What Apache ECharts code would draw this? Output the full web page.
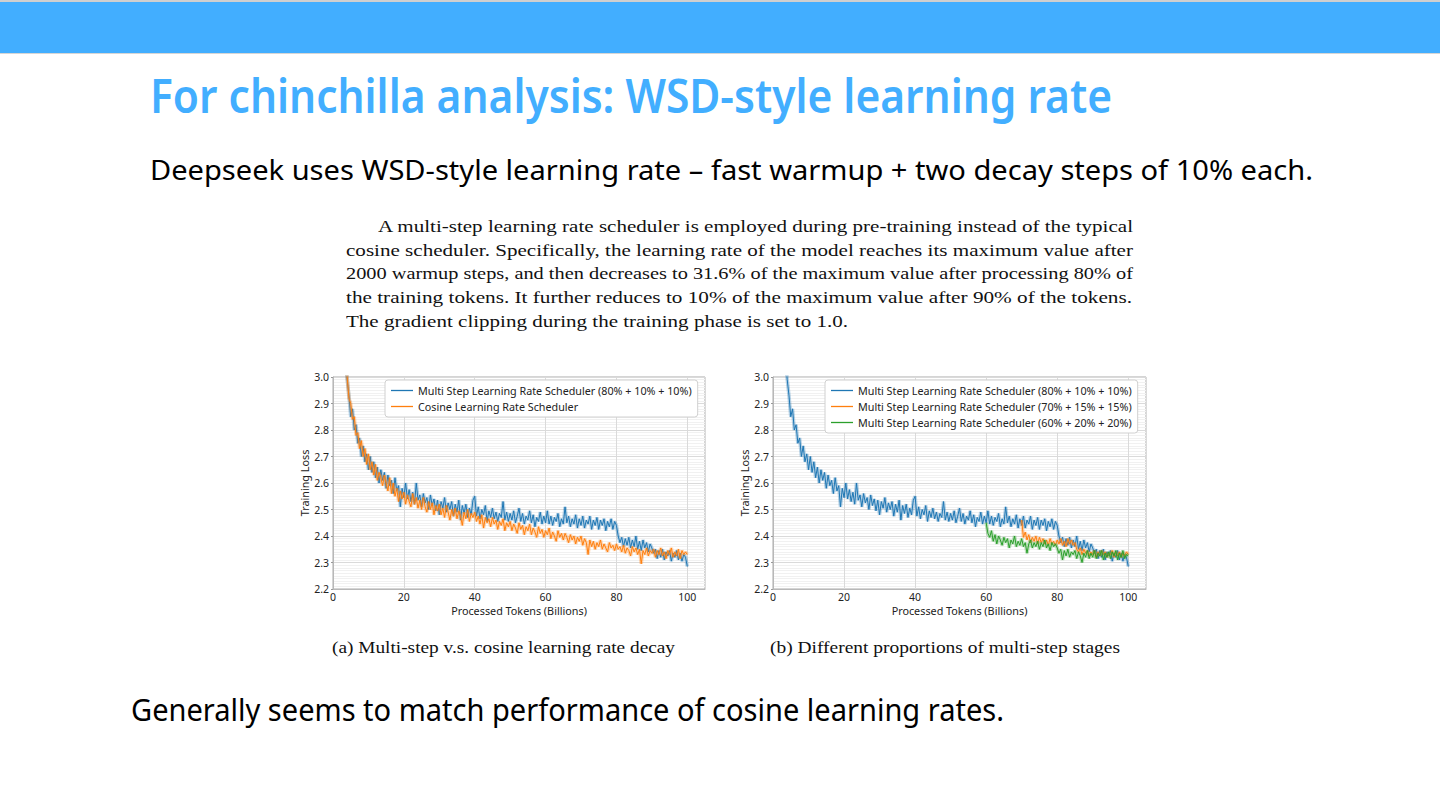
<!DOCTYPE html>
<html><head><meta charset="utf-8">
<script src="https://cdn.jsdelivr.net/npm/echarts@6/dist/echarts.min.js"></script>
<style>
html,body{margin:0;padding:0;background:#fff;width:1440px;height:810px;overflow:hidden;position:relative}
#chart{position:absolute;left:0;top:0;width:1440px;height:810px}
.t{position:absolute;white-space:nowrap;transform-origin:0 0;line-height:1;margin:0}
.sans{font-family:"Noto Sans",sans-serif;color:#000}
.serif{font-family:"Liberation Serif",serif;color:#111}
</style></head><body>
<div style="position:absolute;left:0;top:0;width:1440px;height:2px;background:#cfcfcf"></div>
<div style="position:absolute;left:0;top:2px;width:1440px;height:51px;background:#42aeff"></div>
<div style="position:absolute;left:0;top:53px;width:1440px;height:1px;background:#d6d6d6"></div>
<div id="chart"></div>
<div class="t sans" id="title" style="left:150px;top:72px;font-size:46px;font-weight:600;color:#42aeff">For chinchilla analysis: WSD-style learning rate</div>
<div class="t sans" id="sub" style="left:150px;top:155px;font-size:28px">Deepseek uses WSD-style learning rate – fast warmup + two decay steps of 10% each.</div>
<div class="t serif" id="p1" style="left:378px;top:218px;font-size:17.5px">A multi-step learning rate scheduler is employed during pre-training instead of the typical</div>
<div class="t serif" id="p2" style="left:346px;top:241.5px;font-size:17.5px">cosine scheduler. Specifically, the learning rate of the model reaches its maximum value after</div>
<div class="t serif" id="p3" style="left:346px;top:265px;font-size:17.5px">2000 warmup steps, and then decreases to 31.6% of the maximum value after processing 80% of</div>
<div class="t serif" id="p4" style="left:346px;top:288.5px;font-size:17.5px">the training tokens. It further reduces to 10% of the maximum value after 90% of the tokens.</div>
<div class="t serif" id="p5" style="left:346px;top:312.5px;font-size:17.5px">The gradient clipping during the training phase is set to 1.0.</div>
<div class="t serif" id="ca" style="left:332px;top:639px;font-size:17px">(a) Multi-step v.s. cosine learning rate decay</div>
<div class="t serif" id="cb" style="left:770px;top:639px;font-size:17px">(b) Different proportions of multi-step stages</div>
<div class="t sans" id="bot" style="left:131px;top:695px;font-size:30px">Generally seems to match performance of cosine learning rates.</div>
<script>
// ---------- data (training loss, sampled every 0.5B tokens) ----------
const STEP = 0.5;
const xTicks = [0, 20, 40, 60, 80, 100];
const yTicks = ['2.2','2.3','2.4','2.5','2.6','2.7','2.8','2.9','3.0'];
const names = {
  ms80: 'Multi Step Learning Rate Scheduler (80% + 10% + 10%)',
  cos: 'Cosine Learning Rate Scheduler',
  ms70: 'Multi Step Learning Rate Scheduler (70% + 15% + 15%)',
  ms60: 'Multi Step Learning Rate Scheduler (60% + 20% + 20%)'
};
// multi-step 80/10/10, x from 3.0 to 100
const ms80Start = 3.0;
const ms80 = [
  3.15, 3.07, 2.99, 2.93,
  2.85, 2.88, 2.80, 2.82, 2.75, 2.77, 2.70, 2.74, 2.68, 2.71,
  2.65, 2.70, 2.64, 2.68, 2.62, 2.66, 2.60, 2.65, 2.61, 2.64,
  2.58, 2.63, 2.59, 2.61, 2.56, 2.62, 2.57, 2.59, 2.51, 2.58,
  2.545, 2.60, 2.54, 2.575, 2.53, 2.565, 2.52, 2.60, 2.535, 2.555,
  2.51, 2.56, 2.525, 2.545, 2.50, 2.555, 2.515, 2.54, 2.495, 2.535,
  2.48, 2.53, 2.505, 2.545, 2.49, 2.525, 2.50, 2.53, 2.475, 2.52,
  2.49, 2.535, 2.46, 2.515, 2.485, 2.52, 2.47, 2.505, 2.48, 2.535,
  2.55, 2.475, 2.51, 2.465, 2.50, 2.48, 2.515, 2.455, 2.495, 2.47,
  2.505, 2.465, 2.49, 2.455, 2.485, 2.47, 2.53, 2.46, 2.49, 2.455,
  2.485, 2.46, 2.495, 2.45, 2.475, 2.505, 2.455, 2.485, 2.445, 2.475,
  2.46, 2.495, 2.45, 2.48, 2.435, 2.47, 2.455, 2.49, 2.445, 2.475,
  2.45, 2.495, 2.445, 2.475, 2.44, 2.47, 2.455, 2.485, 2.435, 2.465,
  2.445, 2.51, 2.45, 2.475, 2.435, 2.465, 2.445, 2.48, 2.43, 2.465,
  2.44, 2.475, 2.43, 2.46, 2.445, 2.475, 2.425, 2.46, 2.44, 2.47,
  2.425, 2.46, 2.44, 2.465, 2.42, 2.455, 2.435, 2.465, 2.425, 2.455,
  2.44, 2.40, 2.375, 2.395, 2.36, 2.39, 2.365, 2.395, 2.355, 2.385,
  2.36, 2.40, 2.35, 2.38, 2.345, 2.385, 2.355, 2.375, 2.34, 2.37,
  2.355, 2.335, 2.35, 2.315, 2.345, 2.32, 2.35, 2.31, 2.34, 2.325,
  2.345, 2.305, 2.335, 2.32, 2.345, 2.31, 2.335, 2.305, 2.33, 2.32,
  2.285
];
// cosine, x from 3.0 to 100
const cosStart = 3.0;
const cos = [
  3.16, 3.05, 3.00, 2.92,
  2.90, 2.84, 2.85, 2.78, 2.79, 2.73, 2.76, 2.70, 2.73, 2.67,
  2.71, 2.65, 2.68, 2.63, 2.67, 2.61, 2.64, 2.62, 2.59, 2.63,
  2.60, 2.57, 2.62, 2.56, 2.60, 2.55, 2.58, 2.53, 2.57, 2.54,
  2.565, 2.52, 2.555, 2.53, 2.51, 2.56, 2.52, 2.545, 2.505, 2.535,
  2.50, 2.545, 2.51, 2.49, 2.53, 2.50, 2.525, 2.48, 2.515, 2.495,
  2.52, 2.48, 2.505, 2.47, 2.515, 2.49, 2.46, 2.50, 2.475, 2.505,
  2.465, 2.495, 2.475, 2.44, 2.49, 2.465, 2.50, 2.455, 2.485, 2.47,
  2.49, 2.455, 2.475, 2.445, 2.48, 2.43, 2.47, 2.45, 2.465, 2.435,
  2.47, 2.445, 2.46, 2.425, 2.455, 2.44, 2.465, 2.42, 2.45, 2.435,
  2.455, 2.42, 2.445, 2.43, 2.41, 2.45, 2.425, 2.44, 2.405, 2.435,
  2.42, 2.445, 2.405, 2.43, 2.415, 2.395, 2.435, 2.41, 2.425, 2.395,
  2.42, 2.405, 2.43, 2.39, 2.415, 2.40, 2.38, 2.42, 2.395, 2.41,
  2.385, 2.41, 2.395, 2.375, 2.405, 2.385, 2.40, 2.37, 2.395, 2.38,
  2.40, 2.365, 2.39, 2.375, 2.33, 2.385, 2.36, 2.38, 2.35, 2.375,
  2.36, 2.385, 2.35, 2.37, 2.355, 2.34, 2.375, 2.355, 2.365, 2.345,
  2.37, 2.35, 2.36, 2.34, 2.365, 2.335, 2.355, 2.345, 2.325, 2.36,
  2.34, 2.355, 2.33, 2.35, 2.295, 2.345, 2.33, 2.355, 2.325, 2.345,
  2.335, 2.35, 2.32, 2.345, 2.33, 2.355, 2.325, 2.34, 2.315, 2.345,
  2.33, 2.355, 2.32, 2.34, 2.325, 2.35, 2.315, 2.345, 2.33, 2.34,
  2.33
];
// multi-step 70/15/15, x from 70 to 100
const ms70Start = 70;
const ms70 = [
  2.46, 2.395, 2.415, 2.385, 2.405, 2.375, 2.395, 2.38, 2.40, 2.37,
  2.395, 2.375, 2.39, 2.37, 2.385, 2.365, 2.39, 2.37, 2.38, 2.365,
  2.385, 2.37, 2.39, 2.365, 2.38, 2.36, 2.39, 2.37, 2.385, 2.365,
  2.375, 2.35, 2.34, 2.355, 2.33, 2.35, 2.335, 2.345, 2.325, 2.34,
  2.33, 2.345, 2.32, 2.34, 2.325, 2.345, 2.33, 2.34, 2.32, 2.335,
  2.33, 2.345, 2.32, 2.34, 2.325, 2.34, 2.32, 2.335, 2.325, 2.34,
  2.33
];
// multi-step 60/20/20, x from 60 to 100
const ms60Start = 60;
const ms60 = [
  2.45, 2.41, 2.395, 2.42, 2.38, 2.405, 2.37, 2.40, 2.385, 2.365,
  2.395, 2.375, 2.39, 2.355, 2.385, 2.37, 2.40, 2.36, 2.38, 2.365,
  2.39, 2.36, 2.375, 2.335, 2.37, 2.385, 2.355, 2.375, 2.36, 2.38,
  2.35, 2.375, 2.36, 2.385, 2.355, 2.37, 2.345, 2.375, 2.36, 2.37,
  2.355, 2.335, 2.35, 2.31, 2.345, 2.325, 2.35, 2.32, 2.34, 2.33,
  2.345, 2.315, 2.34, 2.325, 2.30, 2.335, 2.32, 2.345, 2.315, 2.335,
  2.32, 2.345, 2.315, 2.335, 2.325, 2.345, 2.31, 2.335, 2.32, 2.34,
  2.315, 2.34, 2.325, 2.345, 2.31, 2.335, 2.32, 2.345, 2.315, 2.33,
  2.325
];
// ---------- chart ----------
const BLUE = '#1f77b4', ORANGE = '#ff7f0e', GREEN = '#2ca02c';
const F = '"Noto Sans", "DejaVu Sans", sans-serif';
function pairs(x0, arr) { return arr.map((v, i) => [x0 + i * STEP, v]); }
function mk(name, g, data, color, z) {
  return [
    { type: 'line', name: name + ' raw', xAxisIndex: g, yAxisIndex: g, data, symbol: 'none', silent: true,
      lineStyle: { color, width: 3.5, opacity: 0.32 }, z },
    { type: 'line', name, xAxisIndex: g, yAxisIndex: g, data, symbol: 'none', silent: true,
      itemStyle: { color }, lineStyle: { color, width: 1 }, z: z + 1 }
  ];
}
function xAx(g) {
  return { gridIndex: g, type: 'value', min: 0, max: 105, interval: 20,
    name: 'Processed Tokens (Billions)', nameLocation: 'middle', nameGap: 16,
    nameTextStyle: { fontFamily: F, fontSize: 10.8, color: '#222' },
    axisLine: { show: true, lineStyle: { color: '#b8b8b8' } },
    axisTick: { show: false },
    axisLabel: { fontFamily: F, fontSize: 10.5, color: '#222', margin: 2, lineHeight: 11,
      formatter: v => xTicks.indexOf(v) >= 0 ? String(v) : '' },
    splitLine: { show: true, lineStyle: { color: '#dadada' } } };
}
function yAx(g) {
  return { gridIndex: g, type: 'value', min: 2.2, max: 3.0, interval: 0.1,
    name: 'Training Loss', nameLocation: 'middle', nameGap: 20,
    nameTextStyle: { fontFamily: F, fontSize: 10.8, color: '#222' },
    axisLine: { show: true, lineStyle: { color: '#b8b8b8' } },
    axisTick: { show: true, length: 2, lineStyle: { color: '#999' } },
    axisLabel: { fontFamily: F, fontSize: 10.5, color: '#222', margin: 4,
      formatter: v => { const s = v.toFixed(1); return yTicks.indexOf(s) >= 0 ? s : ''; } },
    splitLine: { show: true, lineStyle: { color: '#dadada' } },
    minorTick: { show: false, splitNumber: 10 },
    minorSplitLine: { show: true, lineStyle: { color: '#f1f1f1', width: 1 } } };
}
function lg(left, data) {
  return { left, top: 380, orient: 'vertical', data, icon: 'rect', itemWidth: 22, itemHeight: 1.3, itemGap: 3,
    padding: [4, 6, 4, 6], borderColor: '#d0d0d0', borderWidth: 1, borderRadius: 3, backgroundColor: '#fff',
    textStyle: { fontFamily: F, fontSize: 10.75, color: '#222', lineHeight: 13 }, selectedMode: false };
}
const chart = echarts.init(document.getElementById('chart'), null, { renderer: 'svg' });
chart.setOption({
  animation: false,
  grid: [
    { left: 333, top: 377, width: 372, height: 212, show: true, borderColor: '#aaa', borderWidth: 1 },
    { left: 773, top: 377, width: 373, height: 212, show: true, borderColor: '#aaa', borderWidth: 1 }
  ],
  xAxis: [xAx(0), xAx(1)],
  yAxis: [yAx(0), yAx(1)],
  legend: [lg(385, [names.ms80, names.cos]), lg(825, [names.ms80, names.ms70, names.ms60])],
  series: [].concat(
    mk(names.ms80, 0, pairs(ms80Start, ms80), BLUE, 2),
    mk(names.cos, 0, pairs(cosStart, cos), ORANGE, 4),
    mk(names.ms80, 1, pairs(ms80Start, ms80), BLUE, 2),
    mk(names.ms70, 1, pairs(ms70Start, ms70), ORANGE, 4),
    mk(names.ms60, 1, pairs(ms60Start, ms60), GREEN, 6)
  )
});
// ---------- fit slide text widths ----------
const fits = { title: 962, sub: 1163, p1: 755, p2: 787, p3: 787, p4: 786, p5: 502, ca: 343, cb: 350, bot: 873 };
function doFit() {
  for (const id in fits) {
    const el = document.getElementById(id);
    el.style.transform = '';
    const w = el.getBoundingClientRect().width;
    if (w > 0) el.style.transform = 'scaleX(' + (fits[id] / w) + ')';
  }
}
doFit();
if (document.fonts && document.fonts.ready) document.fonts.ready.then(doFit);
</script>
</body></html>
